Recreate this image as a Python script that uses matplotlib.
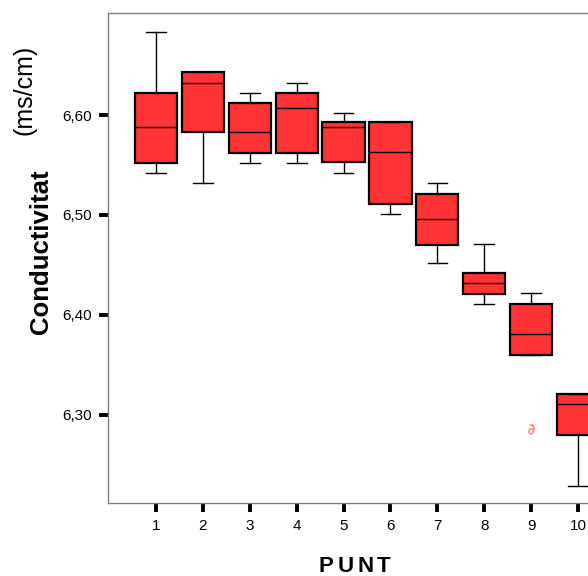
import matplotlib
matplotlib.use("Agg")
import matplotlib.pyplot as plt

plt.rcParams['font.family'] = ['Liberation Sans', 'DejaVu Sans']

# Box statistics (PUNT 1..10)
punts = [1, 2, 3, 4, 5, 6, 7, 8, 9, 10]
whisker_lo = [6.542, 6.532, 6.552, 6.552, 6.542, 6.501, 6.452, 6.411, 6.360, 6.229]
q1 = [6.552, 6.583, 6.562, 6.562, 6.553, 6.511, 6.470, 6.421, 6.360, 6.280]
median = [6.588, 6.632, 6.583, 6.607, 6.588, 6.563, 6.496, 6.432, 6.381, 6.311]
q3 = [6.622, 6.643, 6.612, 6.622, 6.593, 6.593, 6.521, 6.442, 6.411, 6.321]
whisker_hi = [6.683, 6.643, 6.622, 6.632, 6.602, 6.593, 6.532, 6.471, 6.422, 6.321]
outliers = [[], [], [], [], [], [], [], [], [6.286], []]

y_ticks = [6.30, 6.40, 6.50, 6.60]
y_labels = ["6,30", "6,40", "6,50", "6,60"]

stats = []
for i in range(len(punts)):
    stats.append({
        "whislo": whisker_lo[i], "q1": q1[i], "med": median[i],
        "q3": q3[i], "whishi": whisker_hi[i], "fliers": outliers[i],
    })

fig = plt.figure(figsize=(5.88, 5.76), dpi=100)
# axes run past the right edge, like the cropped original
ax = fig.add_axes([108 / 588, 73 / 576, 517 / 588, 490 / 576])

ax.bxp(stats, positions=punts, widths=0.9, patch_artist=True,
       boxprops=dict(facecolor="#ff3333", edgecolor="black", linewidth=1.6),
       medianprops=dict(color="black", linewidth=1.0),
       whiskerprops=dict(color="black", linewidth=1.0),
       capprops=dict(color="black", linewidth=1.0),
       capwidths=0.42,
       flierprops=dict(marker=r"$\partial$", markersize=7,
                       markeredgecolor="#ff8080", markerfacecolor="#ff8080",
                       markeredgewidth=0.3))

ax.set_xlim(-0.023, 11.0)
ax.set_ylim(6.212, 6.702)
ax.set_xticks(punts)
ax.set_xticklabels([str(p) for p in punts], fontsize=11)
ax.set_yticks(y_ticks)
ax.set_yticklabels(y_labels, fontsize=11)
ax.tick_params(axis="both", direction="out", length=6.5, width=2.8, color="black", pad=5)

for side in ["left", "top", "bottom", "right"]:
    ax.spines[side].set_color("#808080")
    ax.spines[side].set_linewidth(1.0)

fig.text(41 / 588, 1 - 252 / 576, "Conductivitat", rotation=90, fontsize=18.5,
         fontweight="bold", ha="center", va="center")
fig.text(25 / 588, 1 - 90 / 576, "(ms/cm)", rotation=90, fontsize=18,
         ha="center", va="center")

# x title with a little extra letter spacing
title_letters = "PUNT"
title_x = [326, 346, 366, 384]
for letter, px in zip(title_letters, title_x):
    fig.text(px / 588, 1 - 566 / 576, letter, fontsize=16, fontweight="bold",
             ha="center", va="center")

fig.savefig("out.png", dpi=100)
